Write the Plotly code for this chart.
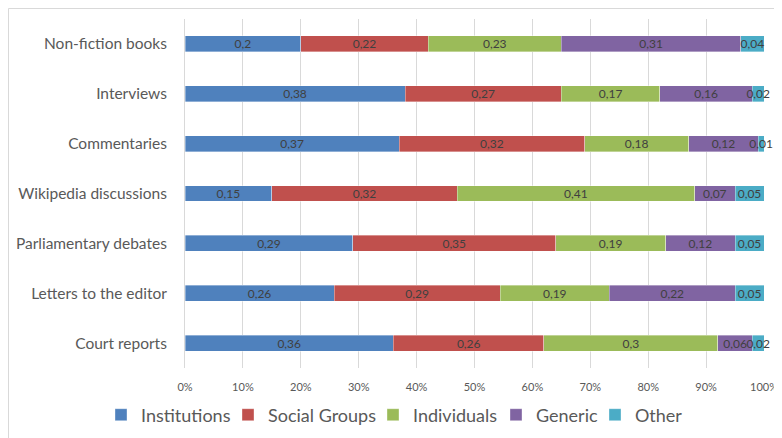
import plotly.graph_objects as go

categories = ["Non-fiction books", "Interviews", "Commentaries", "Wikipedia discussions",
              "Parliamentary debates", "Letters to the editor", "Court reports"]
series_names = ["Institutions", "Social Groups", "Individuals", "Generic", "Other"]
institutions = [0.2, 0.38, 0.37, 0.15, 0.29, 0.26, 0.36]
social_groups = [0.22, 0.27, 0.32, 0.32, 0.35, 0.29, 0.26]
individuals = [0.23, 0.17, 0.18, 0.41, 0.19, 0.19, 0.3]
generic = [0.31, 0.16, 0.12, 0.07, 0.12, 0.22, 0.06]
other = [0.04, 0.02, 0.01, 0.05, 0.05, 0.05, 0.02]
colors = ["#4F81BD", "#C0504D", "#9BBB59", "#8064A2", "#4BACC6"]
tick_vals = [i / 10 for i in range(11)]
tick_text = [f"{i * 10}%" for i in range(11)]

FONT = "Lato"
OFF = 8  # page body margin
W, H = 774, 430
L, R, T, B = 177, 18, 11, 70
pw, ph = W - L - R, H - T - B

def px2x(px):
    return (px - OFF - L) / pw

def py2y(py):
    return (H - B - (py - OFF)) / ph

# screen x where each legend label's text starts in the reference
legend_text_x = [141, 268, 413, 536, 635]
LEG_TEXT_OFFSET = 40

fig = go.Figure()
legend_layout = {}
for i, (name, vals, col) in enumerate(zip(series_names, [institutions, social_groups, individuals, generic, other], colors)):
    key = "legend" if i == 0 else f"legend{i + 1}"
    fig.add_trace(go.Bar(
        name=name, y=categories, x=vals, orientation="h", legend=key,
        marker=dict(color=col, line=dict(color="rgba(255,255,255,0.6)", width=0.6)),
        text=[str(v).replace(".", ",") for v in vals],
        textposition="inside", insidetextanchor="middle", textangle=0,
        constraintext="none", cliponaxis=False,
        textfont=dict(family=FONT, size=12, color="#404040"),
    ))
    legend_layout[key] = dict(
        orientation="h", xref="container", yref="container",
        x=(legend_text_x[i] - LEG_TEXT_OFFSET - OFF) / W, xanchor="left",
        y=1 - (415 - OFF) / H, yanchor="middle",
        font=dict(family=FONT, size=18, color="#595959"),
        itemwidth=30, bgcolor="rgba(0,0,0,0)",
    )

fig.update_layout(
    barmode="stack", barnorm="fraction", bargap=0.68,
    width=W, height=H,
    margin=dict(l=L, r=R, t=T, b=B, autoexpand=False),
    paper_bgcolor="white", plot_bgcolor="white",
    font=dict(family=FONT, color="#595959"),
    showlegend=True,
    xaxis=dict(range=[0, 1], tickvals=tick_vals, ticktext=tick_text, showgrid=True,
               gridcolor="#D9D9D9", gridwidth=1, zeroline=False, showline=False,
               ticks="outside", ticklen=9, tickcolor="rgba(0,0,0,0)",
               tickfont=dict(family=FONT, size=11, color="#595959"), fixedrange=True),
    yaxis=dict(autorange="reversed", showgrid=False, showline=True, linecolor="#D9D9D9",
               linewidth=1, ticks="", ticklabelstandoff=14,
               tickfont=dict(family=FONT, size=15.5, color="#595959"), fixedrange=True),
    shapes=[
        dict(type="line", xref="paper", yref="paper", x0=px2x(8.5), x1=px2x(8.5),
             y0=py2y(438), y1=py2y(8.5), line=dict(color="#D9D9D9", width=1)),
        dict(type="line", xref="paper", yref="paper", x0=px2x(8.5), x1=px2x(782),
             y0=py2y(8.5), y1=py2y(8.5), line=dict(color="#D9D9D9", width=1)),
    ],
    **legend_layout,
)

fig.write_html("out.html")
